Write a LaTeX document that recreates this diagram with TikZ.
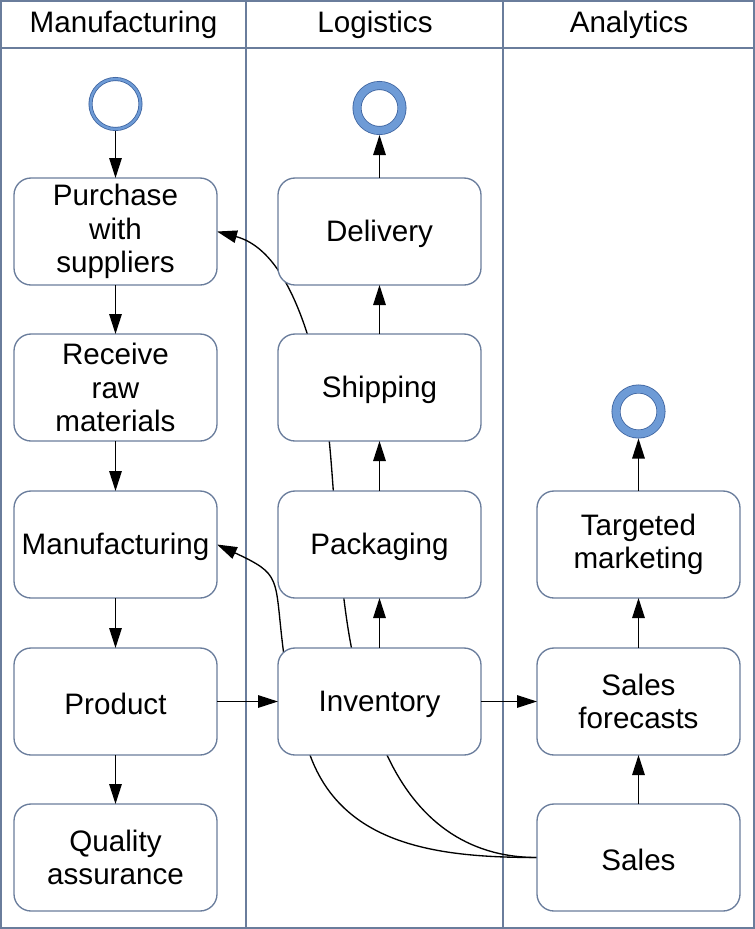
\documentclass[tikz,border=0pt]{standalone}
\usepackage{fontspec}
\setmainfont{Liberation Sans}
\usepackage{tikz}
\usetikzlibrary{arrows.meta}
\usetikzlibrary{backgrounds}
\definecolor{laneline}{RGB}{106,125,156}
\definecolor{ringfill}{RGB}{110,155,214}
\definecolor{ringedge}{RGB}{62,100,160}
\tikzset{lane/.style={draw=laneline, line width=1pt}}
\tikzset{head/.style={font=\fontsize{22.2}{25}\selectfont}}
\tikzset{task/.style={draw=laneline, fill=white, line width=1pt, rounded corners=12.75pt,
  minimum width=152.25pt, minimum height=80.25pt, inner sep=0pt, outer sep=0pt,
  align=center, font=\fontsize{22.2}{25}\selectfont,
  execute at begin node={\rule{0pt}{20pt}}}}
\tikzset{startev/.style={circle, draw=ringedge, double=ringfill, line width=0.6pt,
  double distance=1.8pt, minimum size=37.5pt, inner sep=0pt, outer sep=1.5pt}}
\tikzset{endev/.style={circle, draw=ringedge, double=ringfill, line width=0.6pt,
  double distance=5.55pt, minimum size=33.75pt, inner sep=0pt, outer sep=3.375pt}}
\tikzset{arr/.style={-{Triangle[length=15pt,width=9.4pt]}, line width=1pt, black}}

\begin{document}
\begin{tikzpicture}[x=0.75pt, y=0.75pt]

\useasboundingbox (0,0) rectangle (755,-929);

\begin{pgfonlayer}{background}
\fill [white] (0,0) rectangle (755,-929);
\draw [lane] (1,-1) rectangle (754,-928);
\draw [lane] (1,-48) -- (754,-48);
\foreach \x in {246,503} {\draw [lane] (\x,-1) -- (\x,-928);}
\end{pgfonlayer}

\node [head] (hmanuf) at (123.5,-25) {Manufacturing};
\node [head] (hlog) at (375,-25) {Logistics};
\node [head] (hana) at (629,-25) {Analytics};

% Manufacturing
\node [startev] (start) at (115.5,-104) {};
\node [task] (purchase) at (115.5,-231.5) {Purchase\\with\\suppliers};
\node [task] (receive) at (115.5,-387.5) {Receive\\raw\\materials};
\node [task] (manuf) at (115.5,-544.5) {Manufacturing};
\node [task] (product) at (115.5,-701.5) {Product};
\node [task] (quality) at (115.5,-857.5) {Quality\\assurance};

% Logistics
\node [endev] (endlog) at (379.5,-108) {};
\node [task] (delivery) at (379.5,-231.5) {Delivery};
\node [task] (shipping) at (379.5,-387.5) {Shipping};
\node [task] (packaging) at (379.5,-544.5) {Packaging};
\node [task] (inventory) at (379.5,-701.5) {Inventory};

% Analytics
\node [endev] (endana) at (638.5,-411.5) {};
\node [task] (marketing) at (638.5,-544.5) {Targeted\\marketing};
\node [task] (forecasts) at (638.5,-701.5) {Sales\\forecasts};
\node [task] (sales) at (638.5,-857.5) {Sales};

\foreach \a/\b in {start/purchase, purchase/receive, receive/manuf, manuf/product,
  product/quality, product/inventory, inventory/forecasts, inventory/packaging,
  packaging/shipping, shipping/delivery, delivery/endlog, sales/forecasts,
  forecasts/marketing, marketing/endana} {\draw [arr] (\a) -- (\b);}

% feedback from sales, behind the logistics boxes
\begin{pgfonlayer}{background}
\coordinate (c1a) at (387,-755);
\coordinate (c1b) at (338,-545);
\coordinate (c1c) at (307,-333);
\coordinate (c2a) at (310,-755);
\coordinate (c2b) at (283,-648);
\draw [arr] (sales.west) to [out=180,in=-65] (c1a) to [out=115,in=-84] (c1b)
  to [out=96,in=-72] (c1c) to [out=108,in=-15] (purchase.east);
\draw [arr] (sales.west) to [out=180,in=-70] (c2a) to [out=110,in=-83] (c2b)
  to [out=97,in=-25,looseness=1.5] (manuf.east);
\end{pgfonlayer}

\end{tikzpicture}
\end{document}
